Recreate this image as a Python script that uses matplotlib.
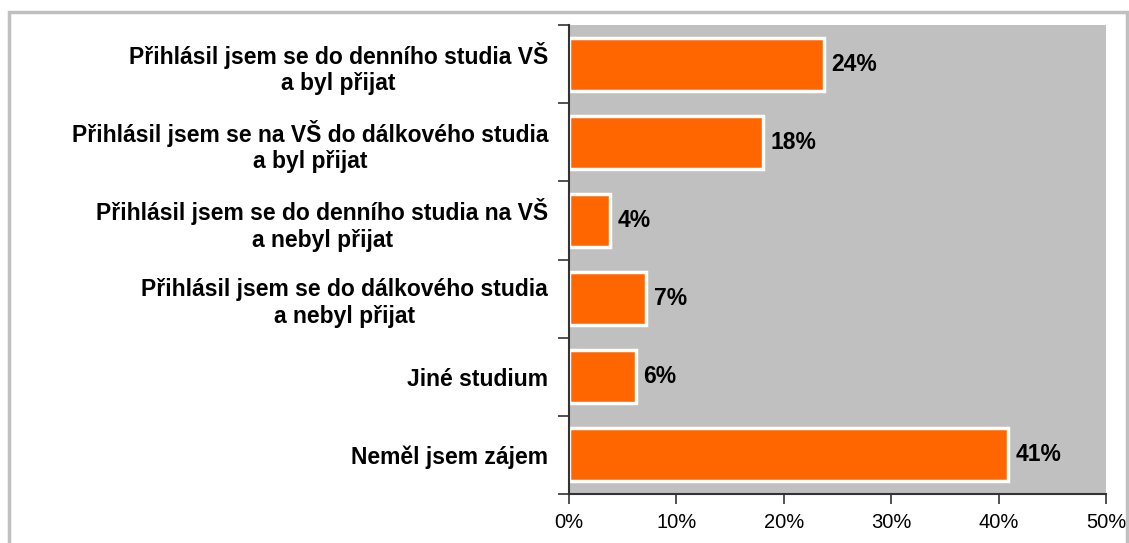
import matplotlib.pyplot as plt
import numpy as np
from matplotlib.patches import Rectangle

plt.rcParams['font.family'] = ['Liberation Sans', 'DejaVu Sans']

# data (top to bottom)
categories = [
    'Přihlásil jsem se do denního studia VŠ\na byl přijat',
    'Přihlásil jsem se na VŠ do dálkového studia\na byl přijat',
    'Přihlásil jsem se do denního studia na VŠ\na nebyl přijat',
    'Přihlásil jsem se do dálkového studia\na nebyl přijat',
    'Jiné studium',
    'Neměl jsem zájem',
]
values = [23.7, 18.1, 3.8, 7.2, 6.2, 40.9]
value_labels = ['24%', '18%', '4%', '7%', '6%', '41%']
x_ticks = [0, 10, 20, 30, 40, 50]

fig = plt.figure(figsize=(11.29, 5.43), dpi=100)
# outer grey frame
fig.patches.append(Rectangle((9 / 1129, -0.1), 1118 / 1129, 1.1 - 12 / 543,
                             transform=fig.transFigure, fill=False,
                             edgecolor='#c0c0c0', linewidth=2.5))

ax = fig.add_axes([569 / 1129, 49 / 543, 537 / 1129, 469 / 543])
ax.set_facecolor('#c0c0c0')

n = len(categories)
ypos = np.arange(n)[::-1]
ax.barh(ypos, values, height=0.68, color='#ff6600', edgecolor='white', linewidth=2.5)

for y, v, lab in zip(ypos, values, value_labels):
    ax.text(v + 0.7, y, lab, va='center', ha='left', fontsize=16.5, fontweight='bold')

ax.set_xlim(0, 50)
ax.set_ylim(-0.5, n - 0.5)
ax.set_xticks(x_ticks)
ax.set_xticklabels([f'{t}%' for t in x_ticks], fontsize=14.5)

# tick marks between categories, labels at centres
ax.set_yticks(np.arange(n + 1) - 0.5)
ax.set_yticklabels([])
ax.set_yticks(ypos, minor=True)
ax.set_yticklabels(categories, minor=True, fontsize=16.5, fontweight='bold')
for t in ax.get_yticklabels(minor=True):
    t.set_multialignment('center')
ax.tick_params(axis='y', which='minor', length=0, pad=15)
ax.tick_params(axis='y', which='major', length=8, width=1.2, color='#333333')
ax.tick_params(axis='x', length=7, width=1.2, color='#333333', pad=7)

for s in ['top', 'right']:
    ax.spines[s].set_visible(False)
for s in ['left', 'bottom']:
    ax.spines[s].set_color('#333333')
    ax.spines[s].set_linewidth(1.5)

fig.savefig('out.png', dpi=100)
